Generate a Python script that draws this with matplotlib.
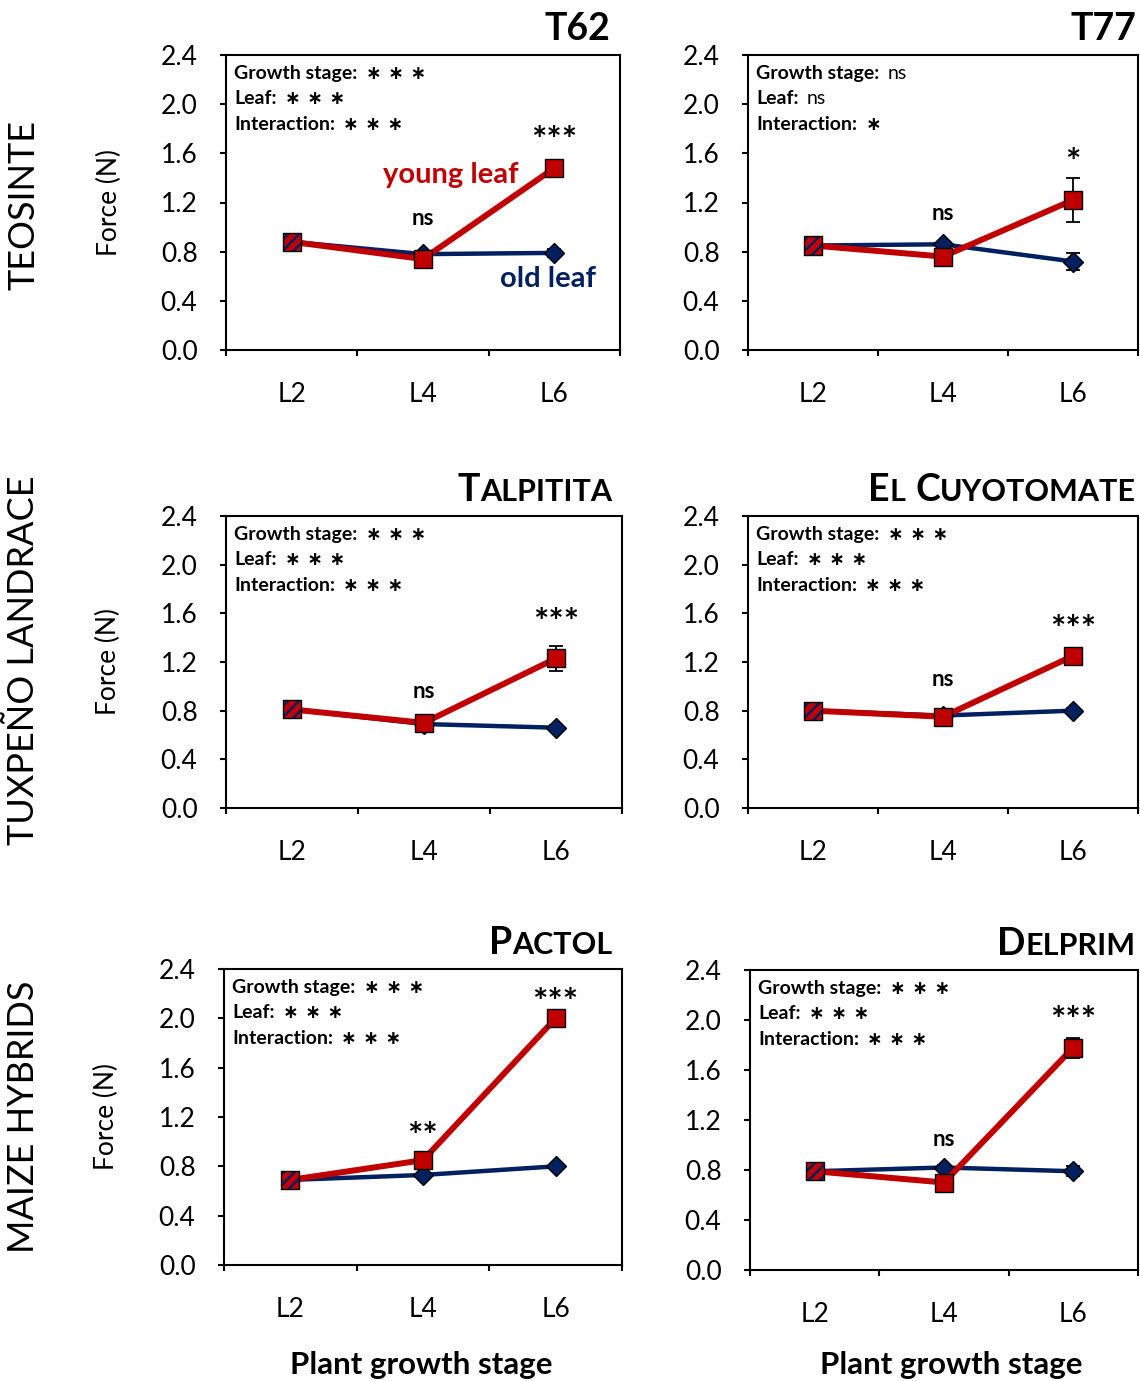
import numpy as np
import matplotlib.pyplot as plt

plt.rcParams["font.family"] = ["Lato", "DejaVu Sans"]
plt.rcParams["hatch.linewidth"] = 1.8

RED = "#C00000"
NAVY = "#002060"

# Data
stages = ["L2", "L4", "L6"]
cultivars = ["T62", "T77", "Talpitita", "El Cuyotomate", "Pactol", "Delprim"]
groups = ["TEOSINTE", "TUXPEÑO LANDRACE", "MAIZE HYBRIDS"]

young_mean = [[0.88, 0.74, 1.48], [0.85, 0.76, 1.22], [0.81, 0.70, 1.23],
              [0.80, 0.75, 1.25], [0.69, 0.85, 2.00], [0.79, 0.70, 1.78]]
young_err = [[0.02, 0.03, 0.03], [0.02, 0.04, 0.18], [0.02, 0.03, 0.10],
             [0.02, 0.02, 0.04], [0.02, 0.03, 0.03], [0.02, 0.03, 0.08]]
old_mean = [[0.88, 0.78, 0.79], [0.85, 0.86, 0.72], [0.81, 0.69, 0.66],
            [0.80, 0.76, 0.80], [0.69, 0.73, 0.80], [0.79, 0.82, 0.79]]
old_err = [[0.02, 0.02, 0.03], [0.02, 0.02, 0.07], [0.02, 0.02, 0.02],
           [0.02, 0.02, 0.02], [0.02, 0.02, 0.02], [0.02, 0.02, 0.04]]

# significance above L4 and L6
stage_sig = [["ns", "***"], ["ns", "*"], ["ns", "***"],
             ["ns", "***"], ["**", "***"], ["ns", "***"]]
anova_terms = ["Growth stage:", "Leaf:", "Interaction:"]
anova_sig = [["***", "***", "***"], ["ns", "ns", "*"], ["***", "***", "***"],
             ["***", "***", "***"], ["***", "***", "***"], ["***", "***", "***"]]

# layout: axes boxes in pixels (x0, x1, top, bottom) and label heights
W, H = 1140, 1381
boxes = [(226, 620, 55, 350), (748, 1138, 55, 350),
         (226, 622, 516, 808), (748, 1138, 516, 808),
         (224, 622, 969, 1265), (750, 1138, 970, 1270)]
sig_y = [[1.06, 1.77], [1.10, 1.59], [0.95, 1.59],
         [1.05, 1.53], [1.11, 2.19], [1.04, 2.06]]
group_y = [205, 660, 1117]
xlabel_x = [421, 951]

fig = plt.figure(figsize=(W / 100, H / 100), dpi=100)


def smallcaps_title(ax, name, right_off, big=27, small=22):
    # split into pieces of equal size, remember spaces
    pieces = []
    space_before = False
    for ch in name:
        if ch == " ":
            space_before = True
            continue
        size = small if ch.islower() else big
        if pieces and pieces[-1][1] == size and not space_before:
            pieces[-1][0] += ch.upper()
        else:
            pieces.append([ch.upper(), size, space_before])
        space_before = False
    anchor = None
    gap = 0
    for text, size, sp in reversed(pieces):
        if anchor is None:
            anchor = ax.annotate(text, xy=(1, 1), xycoords="axes fraction",
                                 xytext=(right_off, 11), textcoords="offset points",
                                 ha="right", va="baseline", fontsize=size,
                                 fontweight="bold")
        else:
            anchor = ax.annotate(text, xy=(0, 1), xycoords=(anchor, "axes fraction"),
                                 xytext=(-gap, 11), textcoords="offset points",
                                 ha="right", va="baseline", fontsize=size,
                                 fontweight="bold")
        gap = 7 if sp else 0


x = np.array([0.5, 1.5, 2.5])

for i, name in enumerate(cultivars):
    x0, x1, y0, y1 = boxes[i]
    ax = fig.add_axes([x0 / W, 1 - y1 / H, (x1 - x0) / W, (y1 - y0) / H])

    ym, ye = np.array(young_mean[i]), np.array(young_err[i])
    om, oe = np.array(old_mean[i]), np.array(old_err[i])

    # old leaf
    ax.plot(x, om, color=NAVY, lw=3.2, zorder=2, solid_capstyle="butt")
    ax.errorbar(x[1:], om[1:], yerr=oe[1:], fmt="none", ecolor="black",
                elinewidth=1.3, capsize=5, capthick=1.3, zorder=2.5)
    ax.plot(x[1:], om[1:], ls="none", marker="D", ms=10, mfc=NAVY,
            mec="black", mew=1.0, zorder=3)
    # young leaf
    ax.plot(x, ym, color=RED, lw=4.3, zorder=4, solid_capstyle="butt")
    ax.errorbar(x[1:], ym[1:], yerr=ye[1:], fmt="none", ecolor="black",
                elinewidth=1.3, capsize=5, capthick=1.3, zorder=4.5)
    ax.plot(x[1:], ym[1:], ls="none", marker="s", ms=13, mfc=RED,
            mec="black", mew=1.0, zorder=5)
    # shared L2 point, striped
    ax.scatter(x[:1], ym[:1], marker="s", s=13 ** 2, facecolor=RED,
               edgecolor=NAVY, hatch="///", linewidths=0, zorder=6)
    ax.scatter(x[:1], ym[:1], marker="s", s=13 ** 2, facecolor="none",
               edgecolor="black", linewidths=1.0, zorder=7)

    # significance over stages (y = glyph centre)
    for j, lab, yc in zip([1, 2], stage_sig[i], sig_y[i]):
        if lab == "ns":
            ax.annotate(lab, xy=(x[j], yc), xytext=(0, -4),
                        textcoords="offset points", ha="center", va="baseline",
                        fontsize=16, fontweight="bold")
        else:
            ax.annotate(lab, xy=(x[j], yc), xytext=(0, -14),
                        textcoords="offset points", ha="center", va="baseline",
                        fontsize=26, fontweight="bold")

    # ANOVA summary
    for k, (term, sig) in enumerate(zip(anova_terms, anova_sig[i])):
        y_off = -(17 + 18.4 * k)
        lbl = ax.annotate(term, xy=(0, 1), xycoords="axes fraction",
                          xytext=(5.8, y_off), textcoords="offset points",
                          ha="left", va="baseline", fontsize=14, fontweight="bold")
        if sig == "ns":
            ax.annotate("ns", xy=(1, 1), xycoords=(lbl, "axes fraction"),
                        xytext=(6, y_off), textcoords="offset points",
                        ha="left", va="baseline", fontsize=14)
        else:
            ax.annotate(" ".join("\u2217" * len(sig)), xy=(1, 1),
                        xycoords=(lbl, "axes fraction"),
                        xytext=(6, y_off), textcoords="offset points",
                        ha="left", va="baseline", fontsize=13.5,
                        fontweight="bold", family="DejaVu Sans")

    smallcaps_title(ax, name, -7 if i % 2 == 0 else -1.5)

    # axes styling
    ax.set_xlim(0, 3)
    ax.set_ylim(0, 2.4)
    ax.set_yticks(np.arange(0, 2.41, 0.4))
    ax.set_yticklabels([f"{v:.1f}" for v in np.arange(0, 2.41, 0.4)])
    ax.set_xticks(x)
    ax.set_xticklabels(stages)
    ax.set_xticks([0, 1, 2, 3], minor=True)
    ax.tick_params(axis="x", which="major", length=0, pad=23, labelsize=19)
    ax.tick_params(axis="x", which="minor", length=4.5, width=1.5, direction="out")
    ax.tick_params(axis="y", length=4.5, width=1.5, direction="out", pad=16,
                   labelsize=19)
    for sp in ax.spines.values():
        sp.set_linewidth(1.5)

    if i % 2 == 0:
        ax.set_ylabel("Force (N)", fontsize=19)
        ax.yaxis.set_label_coords(-0.265, 0.5)

    if i == 0:
        ax.text(1.71, 1.42, "young leaf", color=RED, ha="center", va="center",
                fontsize=21, fontweight="bold")
        ax.text(2.45, 0.58, "old leaf", color=NAVY, ha="center", va="center",
                fontsize=21, fontweight="bold")

for xc in xlabel_x:
    fig.text(xc / W, 1 - 1374 / H, "Plant growth stage", ha="center",
             va="baseline", fontsize=22.5, fontweight="bold")

for g, yc in zip(groups, group_y):
    fig.text(24 / W, 1 - yc / H, g, rotation=90, ha="center", va="center",
             fontsize=26)

fig.savefig("out.png", dpi=100)
